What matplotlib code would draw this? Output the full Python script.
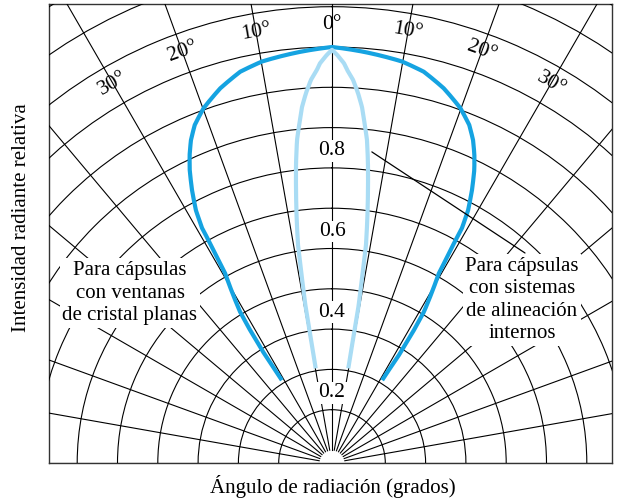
import numpy as np
import matplotlib.pyplot as plt

plt.rcParams['font.family'] = ['Liberation Serif', 'DejaVu Serif']

# half profiles (angle in degrees, relative intensity), mirrored about 0°
flat_ang = [0, 4.45, 9.9, 13.2, 16.6, 19.9, 22.1, 23.6, 24.8, 25.9, 27.15, 28.3,
            28.95, 29.0, 29.4, 31.3, 31.65, 31.8, 31.2]
flat_val = [1.0, 0.991, 0.979, 0.965, 0.938, 0.904, 0.873, 0.842, 0.810, 0.776, 0.729, 0.680,
            0.634, 0.60, 0.508, 0.407, 0.355, 0.283, 0.208]
lens_ang = [0, 0.75, 1.72, 2.2, 3.14, 4.02, 4.82, 5.33, 6.18, 6.84, 7.51, 8.26,
            8.86, 9.12, 9.6, 9.6, 9.77]
lens_val = [0.993, 0.98, 0.96, 0.944, 0.92, 0.888, 0.854, 0.823, 0.774, 0.717, 0.651, 0.577,
            0.515, 0.453, 0.361, 0.302, 0.206]

theta_ticks = [-30, -20, -10, 0, 10, 20, 30]
r_ticks = [0.2, 0.4, 0.6, 0.8]
r_grid = np.arange(0.1, 1.45, 0.1)

dark = '#15a3e1'
light = '#a9dcf4'

W, H = 620, 500
cx, cy = 332, 37      # pole position in pixels (from bottom-left)
k = 403.0             # pixels per unit of intensity
hole = 13 / k
rmax = 1.4
R = (rmax + hole) * k

fig = plt.figure(figsize=(6.2, 5), dpi=100)

# rectangular frame that crops the polar grid
frame = fig.add_axes([49 / W, 37 / H, (612 - 49) / W, (496 - 37) / H])
frame.set_xticks([])
frame.set_yticks([])
frame.patch.set_facecolor('none')
for s in frame.spines.values():
    s.set_color('#333333')
    s.set_linewidth(1.0)

ax = fig.add_axes([(cx - R) / W, (cy - R) / H, 2 * R / W, 2 * R / H], projection='polar')
ax.set_theta_zero_location('N')
ax.set_theta_direction(-1)
ax.set_rorigin(-hole)
ax.set_rlim(0, rmax)
ax.set_thetagrids(np.arange(0, 360, 10))
ax.set_rgrids(r_grid)
ax.set_xticklabels([])
ax.set_yticklabels([])
ax.tick_params(axis='both', length=0)
ax.grid(True, color='black', lw=0.8)
for s in ax.spines.values():
    s.set_visible(False)
    s.set_edgecolor('none')   # the inner spine is switched back on at draw time
ax.patch.set_visible(False)
ax.xaxis.set_clip_path(frame.patch)
ax.yaxis.set_clip_path(frame.patch)


def mirror(a, v):
    a = np.array(a)
    v = np.array(v)
    return np.radians(np.concatenate([-a[::-1], a[1:]])), np.concatenate([v[::-1], v[1:]])


t, v = mirror(flat_ang, flat_val)
l1, = ax.plot(t, v, color=dark, lw=3.0, solid_capstyle='butt', zorder=3)
t, v = mirror(lens_ang, lens_val)
l2, = ax.plot(t, v, color=light, lw=3.0, solid_capstyle='butt', zorder=3)
for l in (l1, l2):
    l.set_clip_path(frame.patch)
    l.get_path()._interpolation_steps = 20   # follow the polar grid between points

# angle labels
for a in theta_ticks:
    ax.text(np.radians(a), 1.055, f'{abs(a)}°', rotation=-a, ha='center', va='center',
            fontsize=15.5, rotation_mode='anchor', clip_on=False)

# intensity labels along 0°
for r in r_ticks:
    ax.text(0, r - 0.058, f'{r:.1f}', ha='center', va='center', fontsize=15.5, zorder=4,
            bbox=dict(facecolor='white', edgecolor='none', pad=1))

# leader from the right note to the narrow pattern
ax.annotate('', xy=(np.radians(7.3), 0.746), xytext=(525 / W, 1 - 253 / H),
            textcoords='figure fraction',
            arrowprops=dict(arrowstyle='-', color='black', lw=0.9, shrinkA=0, shrinkB=0))

box = dict(facecolor='white', edgecolor='none', pad=2)
fig.text(130 / W, 1 - 293 / H, 'Para cápsulas\ncon ventanas\nde cristal planas',
         ha='center', va='center', fontsize=15, linespacing=1.25, bbox=box, zorder=5)
fig.text(522 / W, 1 - 300 / H, 'Para cápsulas\ncon sistemas\nde alineación\ninternos',
         ha='center', va='center', fontsize=15, linespacing=1.25, bbox=box, zorder=5)

fig.text(333 / W, 1 - 487 / H, 'Ángulo de radiación (grados)', ha='center', va='center', fontsize=15)
fig.text(22 / W, 1 - 218 / H, 'Intensidad radiante relativa', rotation=90,
         ha='center', va='center', fontsize=15)

fig.savefig('out.png', dpi=100)
